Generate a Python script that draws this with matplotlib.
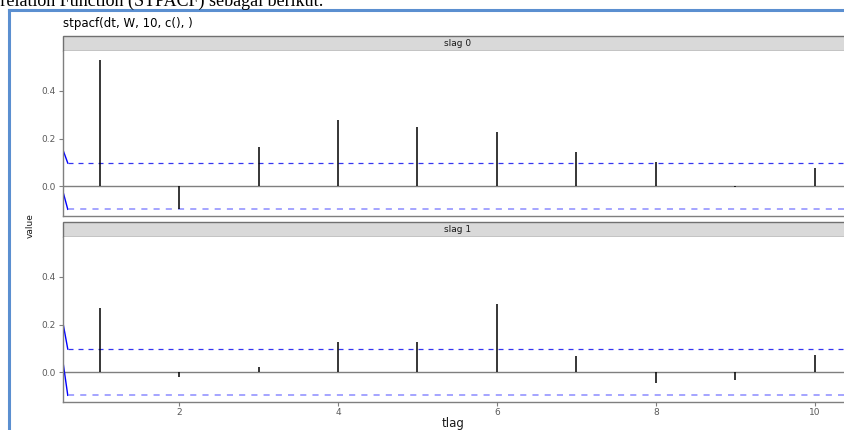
import numpy as np
import matplotlib
matplotlib.use('Agg')
import matplotlib.pyplot as plt
from matplotlib.patches import Rectangle
from matplotlib.lines import Line2D

# data
lags = [1, 2, 3, 4, 5, 6, 7, 8, 9, 10]
slag0 = [0.531, -0.096, 0.165, 0.276, 0.248, 0.228, 0.143, 0.100, -0.003, 0.075]
slag1 = [0.268, -0.021, 0.020, 0.128, 0.128, 0.284, 0.069, -0.045, -0.034, 0.071]
strip_labels = ['slag 0', 'slag 1']
# confidence band: value at the left panel edge, then the flat level
ci_upper_start = [0.152, 0.206]
ci_lower_start = [-0.023, 0.043]
ci_upper = [0.097, 0.097]
ci_lower = [-0.097, -0.097]
xticks = [2, 4, 6, 8, 10]
yticks = [0.0, 0.2, 0.4]

W, H = 845, 430
fig = plt.figure(figsize=(W / 100, H / 100), dpi=100)
plt.rcParams['font.family'] = ['DejaVu Sans']

def px(x0, y0, x1, y1):
    return [x0 / W, 1 - y1 / H, (x1 - x0) / W, (y1 - y0) / H]

# document text cut off at the top (as in the screenshot)
fig.text(324 / W, 1 - 6 / H, 'Space Time Partial Autocorrelation Function (STPACF) sebagai berikut:',
         family='Liberation Serif', fontsize=13, ha='right', va='baseline', color='black')
# document frame
fig.add_artist(Line2D([9 / W, 9 / W], [0, 1 - 10 / H], color='#5b8fd0', lw=2.2))
fig.add_artist(Line2D([9 / W, 1], [1 - 10 / H, 1 - 10 / H], color='#5b8fd0', lw=2.2))

fig.text(63 / W, 1 - 24 / H, 'stpacf(dt, W, 10, c(), )', fontsize=8.5, va='center', ha='left')

x_left, x_right = 0.54, 10.48
panels = [(51, 216), (237, 402)]
series = [slag0, slag1]
grey = '#7f7f7f'

for i, (top, bot) in enumerate(panels):
    # strip
    sax = fig.add_axes(px(63, top - 15, 853, top))
    sax.set_xlim(0, 1)
    sax.set_ylim(0, 1)
    sax.axis('off')
    sax.add_patch(Rectangle((0, 0), 1, 1, facecolor='#d9d9d9', edgecolor='#707070', lw=1.0,
                            transform=sax.transAxes, clip_on=False))
    sax.text(0.5, 0.5, strip_labels[i], ha='center', va='center', fontsize=6.5, color='#1a1a1a')

    ax = fig.add_axes(px(63, top, 853, bot))
    ax.set_xlim(x_left, x_right)
    ax.set_ylim(-0.125, 0.567)
    for s in ['top', 'right']:
        ax.spines[s].set_visible(False)
    for s in ['left', 'bottom']:
        ax.spines[s].set_color(grey)
        ax.spines[s].set_linewidth(1.0)
    ax.axhline(0, color=grey, lw=1.0, zorder=1)
    ax.vlines(lags, 0, series[i], color='black', lw=1.1, zorder=3)

    # confidence lines
    ax.plot([x_left, 0.6], [ci_upper_start[i], ci_upper[i]], color='#0000ff', lw=1.0)
    ax.plot([x_left, 0.6], [ci_lower_start[i], ci_lower[i]], color='#0000ff', lw=1.0)
    ax.plot([0.6, x_right], [ci_upper[i], ci_upper[i]], color='#3535f0', lw=0.9, ls=(0, (4, 4)))
    ax.plot([0.6, x_right], [ci_lower[i], ci_lower[i]], color='#8c8cff', lw=1.1, ls=(0, (4, 4)))

    ax.set_yticks(yticks)
    ax.set_yticklabels(['%.1f' % v for v in yticks])
    ax.tick_params(axis='y', length=3, color=grey, labelcolor='#5a5a5a', labelsize=6.5, pad=2)
    ax.set_xticks(xticks)
    if i == 1:
        ax.tick_params(axis='x', length=3, color=grey, labelcolor='#5a5a5a', labelsize=6.5, pad=1.5)
        ax.set_xlabel('tlag', fontsize=8.5, labelpad=1, color='#1a1a1a')
        ax.xaxis.set_label_coords((453 - 63) / (853 - 63), -0.09)
    else:
        ax.tick_params(axis='x', length=0, labelbottom=False)

fig.text(30 / W, 1 - 226 / H, 'value', rotation=90, fontsize=6.5, ha='center', va='center', color='#1a1a1a')

fig.savefig('out.png', dpi=100)
